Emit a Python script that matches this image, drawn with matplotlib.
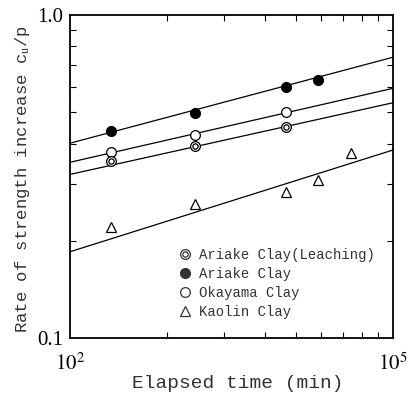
import numpy as np
import matplotlib
matplotlib.use("Agg")
import matplotlib.pyplot as plt
from matplotlib.ticker import FixedLocator, NullFormatter
from matplotlib.legend_handler import HandlerTuple
from matplotlib.lines import Line2D

plt.rcParams['mathtext.fontset'] = 'stix'

# elapsed time (min) and c_u/p
t_leach = [240, 1440, 10080]
cu_leach = [0.353, 0.393, 0.449]
t_ariake = [240, 1440, 10080, 20160]
cu_ariake = [0.438, 0.497, 0.600, 0.629]
t_okayama = [240, 1440, 10080]
cu_okayama = [0.376, 0.425, 0.502]
t_kaolin = [240, 1440, 10080, 20160, 40320]
cu_kaolin = [0.221, 0.260, 0.284, 0.308, 0.375]

# fitted lines, value at t = 1e2 and t = 1e5
fit_t = [1e2, 1e5]
fit_leach = [0.321, 0.535]
fit_ariake = [0.401, 0.740]
fit_okayama = [0.350, 0.593]
fit_kaolin = [0.185, 0.382]

mono = 'Liberation Mono'
serif = 'Liberation Serif'
txt = '#333333'

fig = plt.figure(figsize=(4.12, 3.94), dpi=100)
ax = fig.add_axes([0.170, 0.142, 0.784, 0.820])

for f in [fit_ariake, fit_okayama, fit_leach, fit_kaolin]:
    ax.plot(fit_t, f, color='black', lw=0.9)

ms = 7
ax.plot(t_ariake, cu_ariake, 'o', color='black', ms=ms, zorder=3)
ax.plot(t_okayama, cu_okayama, 'o', mfc='white', mec='black', mew=0.9, ms=ms, zorder=3)
ax.plot(t_leach, cu_leach, 'o', mfc='white', mec='black', mew=0.9, ms=ms, zorder=3)
ax.plot(t_leach, cu_leach, 'o', mfc='white', mec='black', mew=0.9, ms=3.8, zorder=4)
ax.plot(t_kaolin, cu_kaolin, '^', mfc='white', mec='black', mew=0.9, ms=6.5, zorder=3)

ax.set_xscale('log')
ax.set_yscale('log')
ax.set_xlim(1e2, 1e5)
ax.set_ylim(0.1, 1.0)

ax.xaxis.set_major_locator(FixedLocator([1e2, 1e5]))
ax.set_xticklabels([r'$10^2$', r'$10^5$'])
ax.xaxis.set_minor_locator(FixedLocator([100 * k ** 3 for k in range(2, 10)]))
ax.xaxis.set_minor_formatter(NullFormatter())
ax.yaxis.set_major_locator(FixedLocator([0.1, 1.0]))
ax.set_yticklabels(['0.1', '1.0'], family=serif)
ax.yaxis.set_minor_locator(FixedLocator([k / 10 for k in range(2, 10)]))
ax.yaxis.set_minor_formatter(NullFormatter())

ax.tick_params(which='both', direction='in', top=True, right=True)
ax.tick_params(which='minor', length=4, width=0.8)
ax.tick_params(which='major', length=0, labelsize=15)
ax.tick_params(axis='x', which='major', pad=10)
ax.tick_params(axis='y', which='major', pad=5)
for s in ax.spines.values():
    s.set_linewidth(1.3)

ax.set_xlabel('Elapsed time (min)', family=mono, fontsize=14, color=txt)
ax.xaxis.set_label_coords(0.52, -0.114)
ax.set_ylabel(r'Rate of strength increase c$_\mathrm{u}$/p', family=mono, fontsize=12.4,
              color=txt)
ax.yaxis.set_label_coords(-0.118, 0.492)

h_leach = (Line2D([], [], ls='', marker='o', mfc='white', mec=txt, mew=0.9, ms=ms),
           Line2D([], [], ls='', marker='o', mfc='white', mec=txt, mew=0.9, ms=3.8))
h_ariake = Line2D([], [], ls='', marker='o', color=txt, ms=ms)
h_okayama = Line2D([], [], ls='', marker='o', mfc='white', mec=txt, mew=0.9, ms=ms)
h_kaolin = Line2D([], [], ls='', marker='^', mfc='white', mec=txt, mew=0.9, ms=6.5)
leg = ax.legend([h_leach, h_ariake, h_okayama, h_kaolin],
                ['Ariake Clay(Leaching)', 'Ariake Clay', 'Okayama Clay', 'Kaolin Clay'],
                handler_map={tuple: HandlerTuple(ndivide=1, pad=0)},
                prop={'family': mono, 'size': 10}, frameon=False,
                loc='upper left', bbox_to_anchor=(0.312, 0.30),
                handlelength=1.0, handletextpad=0.5, labelspacing=0.35, borderpad=0)
for t in leg.get_texts():
    t.set_color(txt)

fig.savefig('out.png', dpi=100)
